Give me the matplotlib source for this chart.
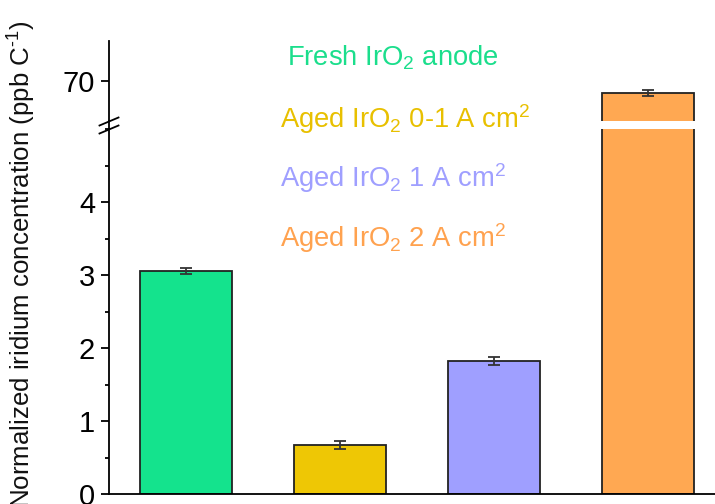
import matplotlib
matplotlib.use('Agg')
import matplotlib.pyplot as plt
from matplotlib.lines import Line2D
from matplotlib.ticker import FixedLocator, MultipleLocator

plt.rcParams['font.family'] = ['Liberation Sans', 'DejaVu Sans']
plt.rcParams['mathtext.fontset'] = 'custom'
plt.rcParams['mathtext.rm'] = 'Liberation Sans'
plt.rcParams['mathtext.it'] = 'Liberation Sans:italic'
plt.rcParams['mathtext.bf'] = 'Liberation Sans:bold'
plt.rcParams['mathtext.sf'] = 'Liberation Sans'
plt.rcParams['mathtext.default'] = 'regular'

# ---- data ----
categories = ["Fresh IrO$_2$ anode", "Aged IrO$_2$ 0-1 A cm$^2$",
              "Aged IrO$_2$ 1 A cm$^2$", "Aged IrO$_2$ 2 A cm$^2$"]
values = [3.05, 0.67, 1.82, 68.5]
errors = [0.04, 0.05, 0.055, 0.4]
lower_ticks = [0, 1, 2, 3, 4]
upper_ticks = [70]
ylabel = "Normalized iridium concentration (ppb C$^{\\text{-1}}$)"

# ---- styles ----
bar_colors = ['#14E38D', '#EEC705', '#9F9FFF', '#FFA852']
text_colors = ['#1BDE8C', '#E8C000', '#9F9FFF', '#FFA24F']

W, H = 715, 504
fig = plt.figure(figsize=(W / 100, H / 100), dpi=100)


def fx(px):
    return px / W


def fy(py):
    return 1 - py / H


left_px, right_px = 109, 725
ax_bot = fig.add_axes([fx(left_px), fy(494), (right_px - left_px) / W, (494 - 129) / H])
ax_top = fig.add_axes([fx(left_px), fy(121), (right_px - left_px) / W, (121 - 41) / H])

x = list(range(len(values)))
for ax in (ax_bot, ax_top):
    ax.bar(x, values, width=0.6, color=bar_colors, edgecolor='#222222', linewidth=1.3, zorder=2)
    ax.errorbar(x, values, yerr=errors, fmt='none', ecolor='#333333', elinewidth=1.3,
                capsize=4, capthick=1.3, zorder=3)
    ax.set_xlim(-0.5, 3.5)
    ax.spines['top'].set_visible(False)
    ax.spines['right'].set_visible(False)
    for s in ax.spines.values():
        s.set_linewidth(1.3)
    ax.tick_params(axis='y', which='major', direction='out', length=6, width=1.3,
                   labelsize=21, pad=4)
    ax.tick_params(axis='y', which='minor', direction='out', length=3, width=1.3)

ax_bot.set_ylim(0, 5.0)
ax_bot.yaxis.set_major_locator(FixedLocator(lower_ticks))
ax_bot.yaxis.set_minor_locator(MultipleLocator(0.5))
ax_bot.set_xticks([])

ax_top.set_ylim(65, 75)
ax_top.yaxis.set_major_locator(FixedLocator(upper_ticks))
ax_top.spines['bottom'].set_visible(False)
ax_top.set_xticks([])

# continuous spine across the break and break marks
fig.add_artist(Line2D([fx(109), fx(109)], [fy(129), fy(121)], transform=fig.transFigure,
                      color='black', lw=1.3))
fig.add_artist(Line2D([fx(99.5), fx(118.5)], [fy(125.5), fy(117.5)], transform=fig.transFigure,
                      color='black', lw=1.3))
fig.add_artist(Line2D([fx(99.5), fx(118.5)], [fy(133.5), fy(125.5)], transform=fig.transFigure,
                      color='black', lw=1.3))

# legend text entries
legend_pos = [(287, 65), (280, 128), (280, 187), (280, 247)]
for label, col, (px, py) in zip(categories, text_colors, legend_pos):
    fig.text(fx(px), fy(py), label, color=col, fontsize=19.7, va='baseline', ha='left')

fig.text(fx(38), fy(20), ylabel, rotation=90, ha='right', va='top', fontsize=18.6, color='#111111')

fig.savefig('out.png', dpi=100)
